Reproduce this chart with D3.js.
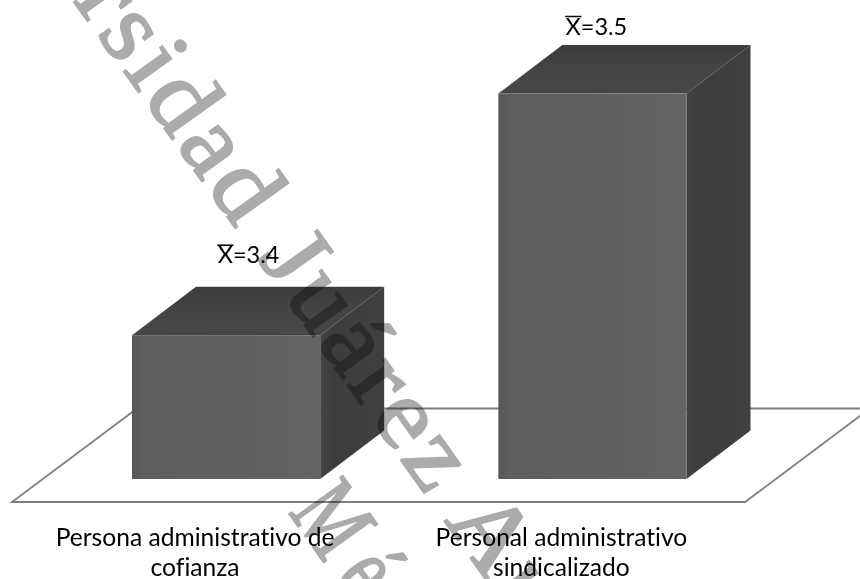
<!DOCTYPE html>
<html lang="es">
<head>
<meta charset="utf-8">
<title>Media por tipo de personal</title>
<script src="https://cdn.jsdelivr.net/npm/d3@7"></script>
<style>
  html, body { margin: 0; padding: 0; background: #fff; }
  svg { display: block; isolation: isolate; }
  .label { font-family: Lato, "Open Sans", sans-serif; fill: #000; font-variant-ligatures: none; }
  .stamp { font-family: "Liberation Serif", serif; fill: #ababab; stroke: #ababab; stroke-width: 2.2; mix-blend-mode: multiply; }
</style>
</head>
<body>
<svg id="chart" width="860" height="579"></svg>
<script>
// Chart data
const categories = ["Persona administrativo de cofianza", "Personal administrativo sindicalizado"];
const categoryLines = [["Persona administrativo de", "cofianza"], ["Personal administrativo", "sindicalizado"]];
const means = [3.4, 3.5];
const stampLines = ["Universidad Juárez Autónoma", "México"];

// Layout of the pseudo-3D plot
const baseY = 479;
const depth = { dx: 64, dy: 48.5 };
const floorDepth = { dx: 125, dy: 93.5 };
const floorFront = { left: 12, right: 745, y: 502 };
const valueLabelDx = [22.5, 4];
const valueLabelGap = [23.5, 10.5];

const svg = d3.select("#chart");

const x = d3.scaleBand()
  .domain(categories)
  .range([132, 686.5])
  .paddingInner(0.4863)
  .paddingOuter(0);

// The value axis does not start at zero, as the two heights show
const y = d3.scaleLinear().domain([3.3405, 3.5]).range([baseY, 93.5]);

// Face shading
const defs = svg.append("defs");
function gradient(id, stops, horizontal = true) {
  const g = defs.append("linearGradient").attr("id", id)
    .attr("x1", 0).attr("y1", 0)
    .attr("x2", horizontal ? 1 : 0).attr("y2", horizontal ? 0 : 1);
  stops.forEach(([o, c]) => g.append("stop").attr("offset", o).attr("stop-color", c));
}
gradient("front", [[0, "#585858"], [0.06, "#5d5d5d"], [0.55, "#606060"], [1, "#656565"]]);
gradient("top", [[0, "#3c3c3c"], [0.5, "#444444"], [1, "#474747"]], false);
gradient("side", [[0, "#444444"], [0.2, "#3d3d3d"], [1, "#404040"]]);

// Floor outline sits behind the bars
const floorPath = d3.line()([
  [floorFront.left + floorDepth.dx, floorFront.y - floorDepth.dy],
  [floorFront.left, floorFront.y],
  [floorFront.right, floorFront.y],
  [floorFront.right + floorDepth.dx, floorFront.y - floorDepth.dy],
]) + "Z";
svg.append("path")
  .attr("d", floorPath)
  .attr("fill", "none")
  .attr("stroke", "#7f7f7f")
  .attr("stroke-width", 1.8);

// Bars: side, top and front faces
const polygon = pts => d3.line()(pts) + "Z";
const bars = svg.selectAll("g.bar")
  .data(means)
  .join("g")
  .attr("class", "bar");

bars.append("path")
  .attr("fill", "url(#side)")
  .attr("d", (d, i) => {
    const r = x(categories[i]) + x.bandwidth();
    return polygon([[r, y(d)], [r + depth.dx, y(d) - depth.dy],
      [r + depth.dx, baseY - depth.dy], [r, baseY]]);
  });

bars.append("path")
  .attr("fill", "url(#top)")
  .attr("d", (d, i) => {
    const l = x(categories[i]), r = l + x.bandwidth();
    return polygon([[l, y(d)], [l + depth.dx, y(d) - depth.dy],
      [r + depth.dx, y(d) - depth.dy], [r, y(d)]]);
  });

bars.append("rect")
  .attr("fill", "url(#front)")
  .attr("x", (d, i) => x(categories[i]))
  .attr("y", d => y(d))
  .attr("width", x.bandwidth())
  .attr("height", d => baseY - y(d));

// Mean labels above each bar
const valueLabels = svg.selectAll("text.value")
  .data(means)
  .join("text")
  .attr("class", "label value")
  .attr("font-size", 23.5)
  .attr("text-anchor", "middle")
  .attr("x", (d, i) => x(categories[i]) + x.bandwidth() / 2 + valueLabelDx[i])
  .attr("y", (d, i) => y(d) - depth.dy - valueLabelGap[i])
  .text(d => "X=" + d.toFixed(1));

// The bar over the X is measured from the rendered glyph
valueLabels.each(function () {
  const start = this.getStartPositionOfChar(0);
  const end = this.getEndPositionOfChar(0);
  svg.append("line")
    .attr("x1", start.x - 0.5)
    .attr("x2", end.x + 0.5)
    .attr("y1", start.y - 18)
    .attr("y2", start.y - 18)
    .attr("stroke", "#000")
    .attr("stroke-width", 1.5);
});

// Category labels, two lines each
const categoryLabels = svg.selectAll("text.category")
  .data(categoryLines)
  .join("text")
  .attr("class", "label category")
  .attr("font-size", 24.6)
  .attr("text-anchor", "middle");
categoryLabels.selectAll("tspan")
  .data((d, i) => d.map(line => ({ line, i })))
  .join("tspan")
  .attr("x", d => x(categories[d.i]) + x.bandwidth() / 2 - 31)
  .attr("y", (d, j) => 546 + j * 30)
  .text(d => d.line);

// Diagonal stamp printed across the page; each line has its own width and tracking
const stampAngle = 54.5;
const stampAnchors = [[-90, -228], [288, 512]];
const stampScaleX = [1.05, 0.72];
const stampTracking = [4.6, 22];
svg.selectAll("text.stamp")
  .data(stampLines)
  .join("text")
  .attr("class", "stamp")
  .attr("font-size", 100)
  .attr("letter-spacing", (d, i) => stampTracking[i])
  .attr("transform", (d, i) => `translate(${stampAnchors[i]}) rotate(${stampAngle}) scale(${stampScaleX[i]}, 1)`)
  .text(d => d);
</script>
</body>
</html>
